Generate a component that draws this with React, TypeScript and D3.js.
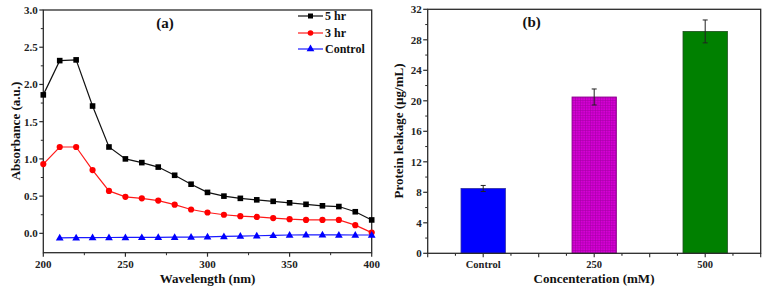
import React from "react";
import * as d3 from "d3";

const wavelengths = [200, 210, 220, 230, 240, 250, 260, 270, 280, 290, 300, 310, 320, 330, 340, 350, 360, 370, 380, 390, 400];
const hr5 = [1.86, 2.32, 2.33, 1.71, 1.16, 1.0, 0.95, 0.89, 0.78, 0.66, 0.55, 0.5, 0.47, 0.45, 0.43, 0.41, 0.39, 0.37, 0.36, 0.29, 0.18];
const hr3 = [0.93, 1.16, 1.16, 0.85, 0.57, 0.49, 0.47, 0.44, 0.385, 0.32, 0.28, 0.25, 0.23, 0.22, 0.205, 0.19, 0.18, 0.18, 0.18, 0.11, 0.01];
const controlWl = [210, 220, 230, 240, 250, 260, 270, 280, 290, 300, 310, 320, 330, 340, 350, 360, 370, 380, 390, 400];
const controlAbs = [-0.06, -0.058, -0.057, -0.056, -0.055, -0.054, -0.053, -0.052, -0.05, -0.047, -0.042, -0.037, -0.032, -0.027, -0.022, -0.02, -0.02, -0.021, -0.022, -0.022];
const absTicks = [0, 0.5, 1.0, 1.5, 2.0, 2.5, 3.0];
const wlTicks = [200, 250, 300, 350, 400];

const barCategories = ["Control", "250", "500"];
const barValues = [8.5, 20.5, 29.1];
const barErrors = [0.4, 1.05, 1.5];
const leakTicks = [0, 4, 8, 12, 16, 20, 24, 28, 32];

const FONT = "'Liberation Serif', 'Times New Roman', serif";
const AXIS = "#2b2b2b";

export default function App() {
  // Panel (a)
  const ax = d3.scaleLinear().domain([200, 400]).range([43.3, 371.7]);
  const ay = d3.scaleLinear().domain([-0.26, 3.0]).range([252.7, 10]);
  const line = d3.line<[number, number]>().x((d) => ax(d[0])).y((d) => ay(d[1]));
  const s5 = wavelengths.map((w, i) => [w, hr5[i]] as [number, number]);
  const s3 = wavelengths.map((w, i) => [w, hr3[i]] as [number, number]);
  const sc = controlWl.map((w, i) => [w, controlAbs[i]] as [number, number]);
  const absMinor = d3.range(0.25, 3.0, 0.5);
  const wlMinor = d3.range(225, 400, 50);

  // Panel (b)
  const bx = d3.scaleLinear().domain([0, 6]).range([427.7, 760.7]);
  const by = d3.scaleLinear().domain([0, 32]).range([253.3, 9.3]);
  const barPos = [1, 3, 5];
  const barW = bx(0.8) - bx(0);
  const bxTicks = d3.range(0, 6.01, 0.5);
  const leakMinor = d3.range(2, 32, 4);
  const colors = ["#0000ff", "url(#gridPat)", "#008000"];

  const tri = d3.symbol().type(d3.symbolTriangle).size(26)();

  return (
    <svg width={774} height={292} style={{ position: "absolute", left: 0, top: 0, background: "#fff" }} fontFamily={FONT}>
      <defs>
        <pattern id="gridPat" width={2.5} height={2.5} patternUnits="userSpaceOnUse">
          <rect width={2.5} height={2.5} fill="#d600d6" />
          <path d="M0,0.25 H2.5 M0.25,0 V2.5" stroke="#a000a0" strokeWidth={0.6} />
        </pattern>
      </defs>
      <rect x={0} y={0} width={774} height={292} fill="#fff" />

      {/* ===== Panel (a) ===== */}
      <rect x={ax(200)} y={ay(3.0)} width={ax(400) - ax(200)} height={ay(-0.26) - ay(3.0)} fill="none" stroke={AXIS} strokeWidth={1.3} />
      {absTicks.map((t) => (
        <g key={"ay" + t}>
          <line x1={ax(200) - 4} x2={ax(200)} y1={ay(t)} y2={ay(t)} stroke={AXIS} strokeWidth={1.2} />
          <text x={ax(200) - 5.5} y={ay(t)} dy="0.35em" textAnchor="end" fontSize={11} fontWeight="bold" fill="#222">
            {t.toFixed(1)}
          </text>
        </g>
      ))}
      {absMinor.map((t) => (
        <line key={"aym" + t} x1={ax(200) - 2.5} x2={ax(200)} y1={ay(t)} y2={ay(t)} stroke={AXIS} strokeWidth={1} />
      ))}
      {wlTicks.map((t) => (
        <g key={"ax" + t}>
          <line x1={ax(t)} x2={ax(t)} y1={ay(-0.26)} y2={ay(-0.26) + 4} stroke={AXIS} strokeWidth={1.2} />
          <text x={ax(t)} y={ay(-0.26) + 15.5} textAnchor="middle" fontSize={11} fontWeight="bold" fill="#222">
            {t}
          </text>
        </g>
      ))}
      {wlMinor.map((t) => (
        <line key={"axm" + t} x1={ax(t)} x2={ax(t)} y1={ay(-0.26)} y2={ay(-0.26) + 2.5} stroke={AXIS} strokeWidth={1} />
      ))}

      <path d={line(s5) || ""} fill="none" stroke="#111" strokeWidth={1.2} />
      <path d={line(s3) || ""} fill="none" stroke="#ff1a1a" strokeWidth={1.2} />
      <path d={line(sc) || ""} fill="none" stroke="#1a1aff" strokeWidth={1.2} />
      {s5.map((d, i) => (
        <rect key={"m5" + i} x={ax(d[0]) - 2.8} y={ay(d[1]) - 2.8} width={5.6} height={5.6} fill="#000" />
      ))}
      {s3.map((d, i) => (
        <circle key={"m3" + i} cx={ax(d[0])} cy={ay(d[1])} r={3.1} fill="#ff0000" />
      ))}
      {sc.map((d, i) => (
        <path key={"mc" + i} d={tri || ""} transform={`translate(${ax(d[0])},${ay(d[1]) + 0.5})`} fill="#0000ff" />
      ))}

      {/* legend */}
      <g>
        <line x1={298} x2={323} y1={16} y2={16} stroke="#111" strokeWidth={1.2} />
        <rect x={310.5 - 2.5} y={16 - 2.5} width={5} height={5} fill="#000" />
        <text x={325} y={16} dy="0.35em" fontSize={12} fontWeight="bold" fill="#111">5 hr</text>
        <line x1={298} x2={323} y1={33} y2={33} stroke="#ff1a1a" strokeWidth={1.2} />
        <circle cx={310.5} cy={33} r={2.8} fill="#ff0000" />
        <text x={325} y={33} dy="0.35em" fontSize={12} fontWeight="bold" fill="#111">3 hr</text>
        <line x1={298} x2={323} y1={49} y2={49} stroke="#1a1aff" strokeWidth={1.2} />
        <path d={tri || ""} transform="translate(310.5,49)" fill="#0000ff" />
        <text x={325} y={49} dy="0.35em" fontSize={12} fontWeight="bold" fill="#111">Control</text>
      </g>

      <text x={165} y={28} textAnchor="middle" fontSize={15} fontWeight="bold" fill="#111">(a)</text>
      <text x={207.5} y={283} textAnchor="middle" fontSize={13} fontWeight="bold" fill="#111">Wavelength (nm)</text>
      <text transform="translate(15,131) rotate(-90)" textAnchor="middle" dy="0.35em" fontSize={13} fontWeight="bold" fill="#111">
        Absorbance (a.u.)
      </text>

      {/* ===== Panel (b) ===== */}
      {barCategories.map((c, i) => (
        <g key={"bar" + c}>
          <rect
            x={bx(barPos[i]) - barW / 2}
            y={by(barValues[i])}
            width={barW}
            height={by(0) - by(barValues[i])}
            fill={colors[i]}
            stroke={i === 0 ? "#3030a0" : i === 1 ? "#8a008a" : "#1f4f1f"}
            strokeWidth={0.8}
          />
          <line x1={bx(barPos[i])} x2={bx(barPos[i])} y1={by(barValues[i] + barErrors[i])} y2={by(barValues[i] - barErrors[i])} stroke="#222" strokeWidth={1} />
          <line x1={bx(barPos[i]) - 2.5} x2={bx(barPos[i]) + 2.5} y1={by(barValues[i] + barErrors[i])} y2={by(barValues[i] + barErrors[i])} stroke="#222" strokeWidth={1} />
          <line x1={bx(barPos[i]) - 2.5} x2={bx(barPos[i]) + 2.5} y1={by(barValues[i] - barErrors[i])} y2={by(barValues[i] - barErrors[i])} stroke="#222" strokeWidth={1} />
          <text x={bx(barPos[i])} y={by(0) + 14.5} textAnchor="middle" fontSize={10.5} fontWeight="bold" fill="#222">
            {c}
          </text>
        </g>
      ))}
      <rect x={bx(0)} y={by(32)} width={bx(6) - bx(0)} height={by(0) - by(32)} fill="none" stroke={AXIS} strokeWidth={1.3} />
      {leakTicks.map((t) => (
        <g key={"by" + t}>
          <line x1={bx(0) - 4.5} x2={bx(0)} y1={by(t)} y2={by(t)} stroke={AXIS} strokeWidth={1.2} />
          <text x={bx(0) - 6} y={by(t)} dy="0.35em" textAnchor="end" fontSize={11} fontWeight="bold" fill="#222">
            {t}
          </text>
        </g>
      ))}
      {leakMinor.map((t) => (
        <line key={"bym" + t} x1={bx(0) - 2.5} x2={bx(0)} y1={by(t)} y2={by(t)} stroke={AXIS} strokeWidth={1} />
      ))}
      {bxTicks.map((t) => (
        <line key={"bx" + t} x1={bx(t)} x2={bx(t)} y1={by(0)} y2={by(0) + (Number.isInteger(t) ? 4 : 2.5)} stroke={AXIS} strokeWidth={1.1} />
      ))}

      <text x={531.7} y={26.5} textAnchor="middle" fontSize={15} fontWeight="bold" fill="#111">(b)</text>
      <text x={594} y={283} textAnchor="middle" fontSize={13} fontWeight="bold" fill="#111">Concenteration (mM)</text>
      <text transform="translate(398,131) rotate(-90)" textAnchor="middle" dy="0.35em" fontSize={13} fontWeight="bold" fill="#111">
        Protein leakage (µg/mL)
      </text>
    </svg>
  );
}
